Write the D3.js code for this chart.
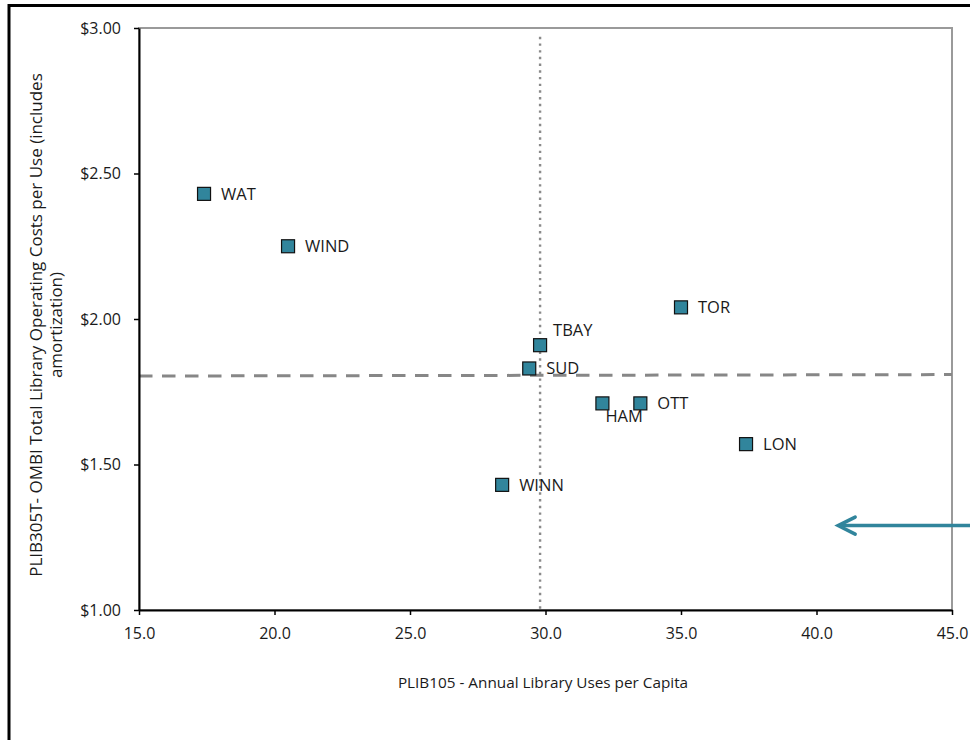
<!DOCTYPE html>
<html>
<head>
<meta charset="utf-8">
<script src="https://cdn.jsdelivr.net/npm/d3@7"></script>
<style>
  html, body { margin: 0; padding: 0; background: #fff; }
  svg { display: block; }
  text { font-family: "Open Sans", "Noto Sans", sans-serif; fill: #1a1a1a; }
</style>
</head>
<body>
<svg id="chart" width="970" height="740"></svg>
<script>
// ---- data ----
const cities = ["WAT", "WIND", "TBAY", "SUD", "TOR", "HAM", "OTT", "LON", "WINN"];
const usesPerCapita = [17.4, 20.5, 29.8, 29.4, 35.0, 32.1, 33.5, 37.4, 28.4];
const costPerUse = [2.43, 2.25, 1.91, 1.83, 2.04, 1.71, 1.71, 1.57, 1.43];
const xTicks = [15, 20, 25, 30, 35, 40, 45];
const yTicks = [1.00, 1.50, 2.00, 2.50, 3.00];
const medianUses = 29.8;
const refCostLine = [[15, 1.804], [45, 1.809]];
const arrowLine = [[46.5, 1.29], [40.8, 1.29]];
const xTitle = "PLIB105 - Annual Library Uses per Capita";
const yTitleLines = ["PLIB305T- OMBI Total Library Operating Costs per Use (includes", "amortization)"];

// label placement (offsets in px relative to marker)
const labelOffsets = { TBAY: [13, -15], HAM: [3, 13] };

const svg = d3.select("#chart");
const L = 139, R = 952, T = 28, B = 610;
const x = d3.scaleLinear().domain([15, 45]).range([L, R]);
const y = d3.scaleLinear().domain([1, 3]).range([B, T]);
const teal = "#31859C";

// outer frame
svg.append("rect").attr("x", 9).attr("y", 5.5).attr("width", 1100).attr("height", 1100)
  .attr("fill", "none").attr("stroke", "#000").attr("stroke-width", 3);

// plot area border (gray)
svg.append("rect").attr("x", L).attr("y", T).attr("width", R - L).attr("height", B - T)
  .attr("fill", "none").attr("stroke", "#9a9a9a").attr("stroke-width", 2);

// reference lines
svg.append("line")
  .attr("x1", x(medianUses)).attr("x2", x(medianUses))
  .attr("y1", y(2.97)).attr("y2", y(1))
  .attr("stroke", "#8a8a8a").attr("stroke-width", 2.4)
  .attr("stroke-dasharray", "2.4,4.3");

svg.append("line")
  .attr("x1", x(refCostLine[0][0])).attr("y1", y(refCostLine[0][1]))
  .attr("x2", x(refCostLine[1][0])).attr("y2", y(refCostLine[1][1]))
  .attr("stroke", "#878787").attr("stroke-width", 3)
  .attr("stroke-dasharray", "13.5,9.5");

// axes
const xAxis = d3.axisBottom(x).tickValues(xTicks).tickFormat(d3.format(".1f"))
  .tickSizeInner(5).tickSizeOuter(0).tickPadding(13);
const yAxis = d3.axisLeft(y).tickValues(yTicks).tickFormat(d => "$" + d.toFixed(2))
  .tickSizeInner(5).tickSizeOuter(0).tickPadding(13);

const gx = svg.append("g").attr("transform", `translate(0,${B})`).call(xAxis);
const gy = svg.append("g").attr("transform", `translate(${L},0)`).call(yAxis);
[gx, gy].forEach(g => {
  g.select(".domain").attr("stroke", "#000").attr("stroke-width", 2);
  g.selectAll(".tick line").attr("stroke", "#000").attr("stroke-width", 1.5);
  g.selectAll(".tick text").attr("font-size", 16).attr("fill", "#1a1a1a")
    .attr("font-family", '"Open Sans", "Noto Sans", sans-serif');
});

// axis titles
svg.append("text").attr("x", 543).attr("y", 688)
  .attr("text-anchor", "middle").attr("font-size", 15.3).text(xTitle);

const yt = svg.append("g").attr("transform", `translate(0,325) rotate(-90)`);
yTitleLines.forEach((t, i) => {
  yt.append("text").attr("x", 0).attr("y", 36 + i * 20).attr("dy", "0.35em")
    .attr("text-anchor", "middle").attr("font-size", 17).text(t);
});

// points
const pts = cities.map((c, i) => ({ name: c, xv: usesPerCapita[i], yv: costPerUse[i] }));
const s = 13;
svg.append("g").selectAll("rect").data(pts).join("rect")
  .attr("x", d => x(d.xv) - s / 2).attr("y", d => y(d.yv) - s / 2)
  .attr("width", s).attr("height", s)
  .attr("fill", teal).attr("stroke", "#111").attr("stroke-width", 1.2);

svg.append("g").selectAll("text").data(pts).join("text")
  .attr("x", d => x(d.xv) + (labelOffsets[d.name] ? labelOffsets[d.name][0] : 17))
  .attr("y", d => y(d.yv) + (labelOffsets[d.name] ? labelOffsets[d.name][1] : 0))
  .attr("dy", "0.35em").attr("font-size", 16.5).text(d => d.name);

// arrow annotation
const ax1 = x(arrowLine[0][0]), ay1 = y(arrowLine[0][1]);
const ax2 = x(arrowLine[1][0]), ay2 = y(arrowLine[1][1]);
svg.append("line").attr("x1", ax1).attr("y1", ay1).attr("x2", ax2 + 2).attr("y2", ay2)
  .attr("stroke", teal).attr("stroke-width", 3.5);
svg.append("path")
  .attr("d", `M${ax2 + 17},${ay2 - 8.5} L${ax2},${ay2} L${ax2 + 17},${ay2 + 8.5}`)
  .attr("fill", "none").attr("stroke", teal).attr("stroke-width", 3.5)
  .attr("stroke-linecap", "round").attr("stroke-linejoin", "miter");
</script>
</body>
</html>
